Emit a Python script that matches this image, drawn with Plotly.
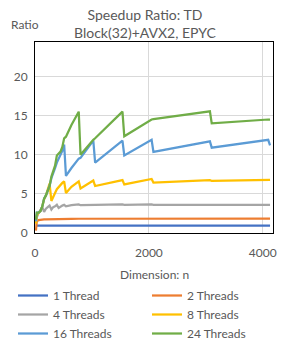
import plotly.graph_objects as go

dims = [16, 32, 64, 96, 128, 160, 192, 224, 256, 288, 320, 352, 384, 416, 448, 480,
        512, 544, 640, 768, 800, 1024, 1056, 1536, 1568, 2048, 2080, 3072, 3104, 4096, 4128]

t1 = [0.95] * len(dims)
t2 = [0.3, 1.5, 1.65, 1.7, 1.72, 1.74, 1.75, 1.76, 1.77, 1.77, 1.78, 1.78, 1.79, 1.79, 1.8, 1.8,
      1.8, 1.8, 1.81, 1.82, 1.82, 1.83, 1.83, 1.84, 1.84, 1.84, 1.84, 1.85, 1.85, 1.85, 1.85]
t4 = [1.4, 2.0, 2.6, 2.9, 3.3, 2.7, 3.1, 3.3, 3.5, 3.0, 3.3, 3.4, 3.6, 3.2, 3.4, 3.5,
      3.6, 3.4, 3.55, 3.65, 3.55, 3.65, 3.6, 3.65, 3.6, 3.65, 3.6, 3.6, 3.6, 3.6, 3.6]
t8 = [1.2, 2.2, 2.6, 2.8, 3.4, 4.3, 4.8, 5.5, 6.3, 4.1, 4.7, 5.1, 5.6, 5.9, 6.1, 6.4,
      6.6, 5.1, 5.9, 6.6, 5.7, 6.7, 6.0, 6.75, 6.2, 6.9, 6.45, 6.75, 6.65, 6.8, 6.8]
t16 = [1.5, 2.6, 2.6, 2.8, 3.4, 4.4, 4.8, 5.4, 6.0, 7.0, 7.8, 8.3, 9.0, 9.5, 10.0, 10.5,
       11.3, 7.3, 8.3, 9.5, 9.6, 11.8, 9.0, 11.8, 9.9, 11.9, 10.35, 11.7, 10.9, 11.9, 11.2]
t24 = [1.7, 2.6, 2.6, 2.8, 3.4, 4.4, 4.8, 5.3, 6.0, 7.2, 7.8, 8.6, 9.9, 10.1, 10.4, 11.0,
       12.1, 12.3, 13.8, 15.5, 10.0, 11.9, 12.1, 15.5, 12.35, 14.5, 14.55, 15.55, 14.0, 14.5, 14.5]

series = [
    ("1 Thread", t1, "#4472C4", "legend"),
    ("2 Threads", t2, "#ED7D31", "legend2"),
    ("4 Threads", t4, "#A5A5A5", "legend"),
    ("8 Threads", t8, "#FFC000", "legend2"),
    ("16 Threads", t16, "#5B9BD5", "legend"),
    ("24 Threads", t24, "#70AD47", "legend2"),
]

FONT = "Lato"
TXT = "#595959"
W, H = 291, 347
L, R, T, B = 35, 18, 42, 114
PW, PH = W - L - R, H - T - B


def px_x(px):
    return (px - L) / PW


def px_y(py):
    return (H - B - py) / PH


fig = go.Figure()
for name, vals, color, lg in series:
    fig.add_trace(go.Scatter(x=dims, y=vals, mode="lines", name=name, legend=lg,
                             line=dict(color=color, width=2.25)))

leg_common = dict(orientation="v", xanchor="left", yanchor="top",
                  font=dict(family=FONT, size=12, color=TXT),
                  bgcolor="rgba(0,0,0,0)", traceorder="normal", tracegroupgap=0)

fig.update_layout(
    width=W, height=H,
    margin=dict(l=L, r=R, t=T, b=B, autoexpand=False),
    paper_bgcolor="white", plot_bgcolor="white",
    font=dict(family=FONT, size=12, color=TXT),
    showlegend=True,
    legend=dict(x=px_x(13), y=px_y(281), **leg_common),
    legend2=dict(x=px_x(147), y=px_y(281), **leg_common),
    annotations=[
        dict(text="Speedup Ratio: TD<br>Block(32)+AVX2, EPYC", xref="paper", yref="paper",
             x=px_x(145), y=px_y(4), xanchor="center", yanchor="top", showarrow=False,
             font=dict(family=FONT, size=14, color=TXT)),
        dict(text="Ratio", xref="paper", yref="paper",
             x=px_x(24.5), y=px_y(25), xanchor="center", yanchor="middle",
             showarrow=False, font=dict(family=FONT, size=12, color=TXT)),
        dict(text="Dimension: n", xref="paper", yref="paper",
             x=px_x(154), y=px_y(274), xanchor="center", yanchor="middle",
             showarrow=False, font=dict(family=FONT, size=12, color=TXT)),
    ],
)

fig.update_xaxes(range=[0, 4180], tickvals=[0, 2000, 4000], ticktext=["0", "2000", "4000"],
                 showgrid=True, gridcolor="#D9D9D9", gridwidth=1,
                 showline=True, linecolor="black", linewidth=1, mirror=True,
                 zeroline=False, ticks="", ticklabelstandoff=9)
fig.update_yaxes(range=[0, 24.4], tickvals=[0, 5, 10, 15, 20],
                 showgrid=True, gridcolor="#D9D9D9", gridwidth=1,
                 showline=True, linecolor="black", linewidth=1, mirror=True,
                 zeroline=False, ticks="", ticklabelstandoff=4)

fig.write_html("out.html", config={"displayModeBar": False},
               post_script="document.body.style.margin='0';document.body.style.overflow='hidden';")
